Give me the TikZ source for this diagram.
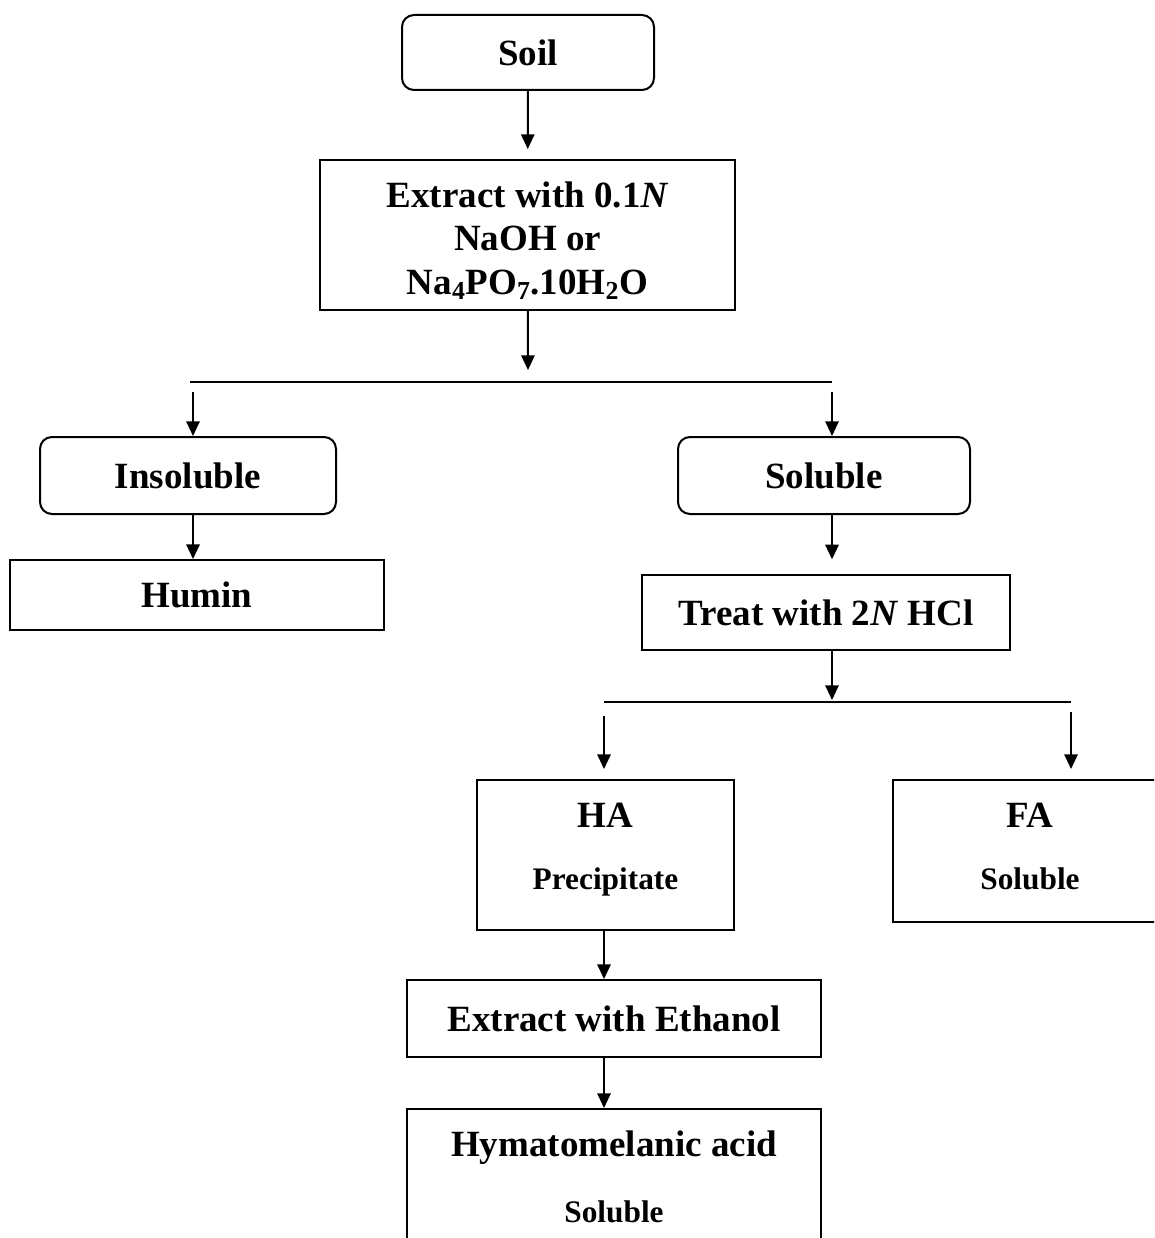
\documentclass[tikz,border=0pt]{standalone}
\usepackage{fontspec}
\setmainfont{Liberation Serif}
\usetikzlibrary{arrows.meta}
\usetikzlibrary{positioning}
\usetikzlibrary{calc}

\newcommand{\bigtxt}{\fontsize{27.75}{32.6}\selectfont\bfseries}
\newcommand{\subtxt}{\fontsize{23.5}{28}\selectfont\bfseries}

\begin{document}
\begin{tikzpicture}[x=0.75pt,y=-0.75pt,>={Triangle[length=11pt,width=10pt]},line width=1.5pt]
 \tikzstyle{round node}=[rectangle,rounded corners=9pt,draw,align=center,font=\bigtxt,inner sep=0]
 \tikzstyle{solid node}=[rectangle,draw,align=center,font=\bigtxt,inner sep=0]

 \clip (0,0) rectangle (1154,1238);

       \node[round node,minimum width=189pt,minimum height=56.25pt] (soil) at (528,52.5) {Soil};
       \node[solid node,minimum width=311.25pt,minimum height=112.5pt] (ext) at (527.5,235)
            {\rule{0pt}{28pt}Extract with 0.1\textit{N}\\NaOH or\\Na\textsubscript{4}PO\textsubscript{7}.10H\textsubscript{2}O};
       \node[round node,minimum width=222pt,minimum height=57.75pt] (insol) at (188,475.5) {Insoluble};
       \node[solid node,minimum width=280.5pt,minimum height=52.5pt] (humin) at (197,595) {Humin};
       \node[round node,minimum width=219pt,minimum height=57.75pt] (sol) at (824,475.5) {Soluble};
       \node[solid node,minimum width=276pt,minimum height=56.25pt] (hcl) at (826,612.5) {Treat with 2\textit{N} HCl};
       \node[solid node,minimum width=192.75pt,minimum height=112.5pt] (ha) at (605.5,855)
            {HA\\[14pt]{\subtxt Precipitate}\rule[-13pt]{0pt}{13pt}};
       \node[solid node,minimum width=205.5pt,minimum height=106.5pt] (fa) at (1030,851)
            {FA\\[14pt]{\subtxt Soluble}\rule[-7pt]{0pt}{7pt}};
       \node[solid node,minimum width=310.5pt,minimum height=57.75pt] (eth) at (614,1018.5) {Extract with Ethanol};
       \node[solid node,minimum width=310.5pt,minimum height=102pt] (hyma) at (614,1177)
            {Hymatomelanic acid\\[17pt]{\subtxt Soluble}};

       % split points
       \coordinate (s1) at (528,370);
       \coordinate (b1l) at (190,382);
       \coordinate (b1r) at (832,382);
       \coordinate (a1l) at (193,392);
       \coordinate (a1r) at (832,392);
       \coordinate (s2) at (832,700);
       \coordinate (b2l) at (604,702);
       \coordinate (b2r) at (1071,702);
       \coordinate (a2l) at (604,716);
       \coordinate (a2r) at (1071,712);

     \path[->]  (soil) edge[shorten >=7.5pt] (ext);
     \path[->]  (ext) edge (s1);
     \draw      (b1l) -- (b1r);
     \path[->]  (a1l) edge (a1l |- insol.north);
     \path[->]  (a1r) edge (a1r |- sol.north);
     \path[->]  (insol.south -| a1l) edge (humin.north -| a1l);

     \path[->]  (sol.south -| a1r) edge[shorten >=11pt] (hcl.north -| a1r);
     \path[->]  (hcl.south -| s2) edge (s2);
     \draw      (b2l) -- (b2r);
     \path[->]  (a2l) edge[shorten >=7.5pt] (a2l |- ha.north);
     \path[->]  (a2r) edge[shorten >=7.5pt] (a2r |- fa.north);

     \path[->]  (ha.south -| a2l) edge (eth.north -| a2l);
     \path[->]  (eth.south -| a2l) edge (hyma.north -| a2l);
 \end{tikzpicture}
\end{document}
